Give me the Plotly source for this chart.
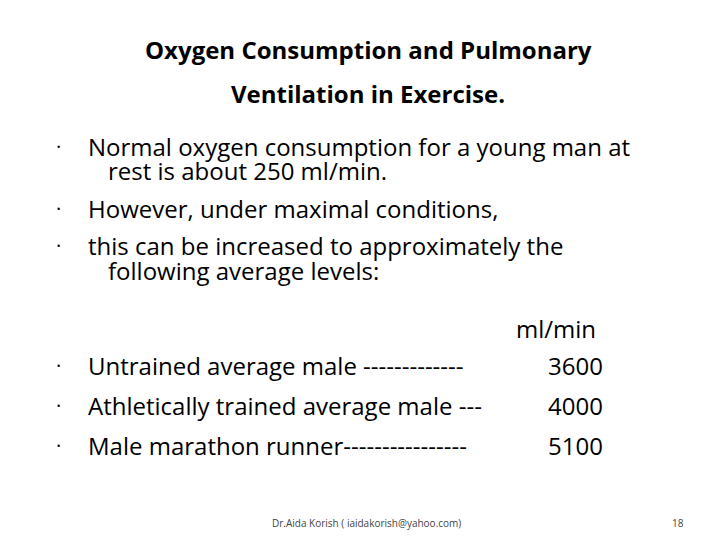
import plotly.graph_objects as go

title_lines = ["Oxygen Consumption and Pulmonary", "Ventilation in Exercise."]
intro_lines = [
    ("•", "Normal oxygen consumption for a young man at"),
    ("", "rest is about 250 ml/min."),
    ("•", "However, under maximal conditions,"),
    ("•", "this can be increased to approximately the"),
    ("", "following average levels:"),
]
unit_label = "ml/min"
categories = ["Untrained average male -------------",
              "Athletically trained average male ---",
              "Male marathon runner----------------"]
values = [3600, 4000, 5100]
footer = "Dr.Aida Korish ( iaidakorish@yahoo.com)"
page_no = "18"

W, H = 720, 540
font = "Open Sans, Liberation Sans, sans-serif"
fig = go.Figure()
ann = []

def add(text, px, py, size=24, anchor="left", bold=False, color="#000"):
    if bold:
        text = "<b>" + text + "</b>"
    ann.append(dict(text=text, x=px / W, y=1 - (py - 9) / H, xref="paper", yref="paper",
                    xanchor=anchor, yanchor="middle", showarrow=False,
                    font=dict(size=size, family=font, color=color)))

for i, t in enumerate(title_lines):
    add(t, 360, 50 + 44 * i, size=24, anchor="center", bold=True)

ys = [147, 172, 209, 246, 271]
for (b, t), y in zip(intro_lines, ys):
    if b:
        add("·", 50, y, size=20, anchor="center")
        add(t, 78, y)
    else:
        add(t, 98, y)

add(unit_label, 590, 329, anchor="right")
for j, (c, v) in enumerate(zip(categories, values)):
    y = 366 + 40 * j
    add("·", 50, y, size=20, anchor="center")
    add(c, 78, y)
    add(str(v), 597, y, anchor="right")

add(footer, 358, 524, size=10, anchor="center", color="#444")
add(page_no, 670, 524, size=10, anchor="center", color="#444")

fig.update_layout(width=W, height=H, margin=dict(l=0, r=0, t=0, b=0),
                  paper_bgcolor="white", plot_bgcolor="white",
                  xaxis=dict(visible=False), yaxis=dict(visible=False),
                  annotations=ann)
fig.write_html("out.html")
